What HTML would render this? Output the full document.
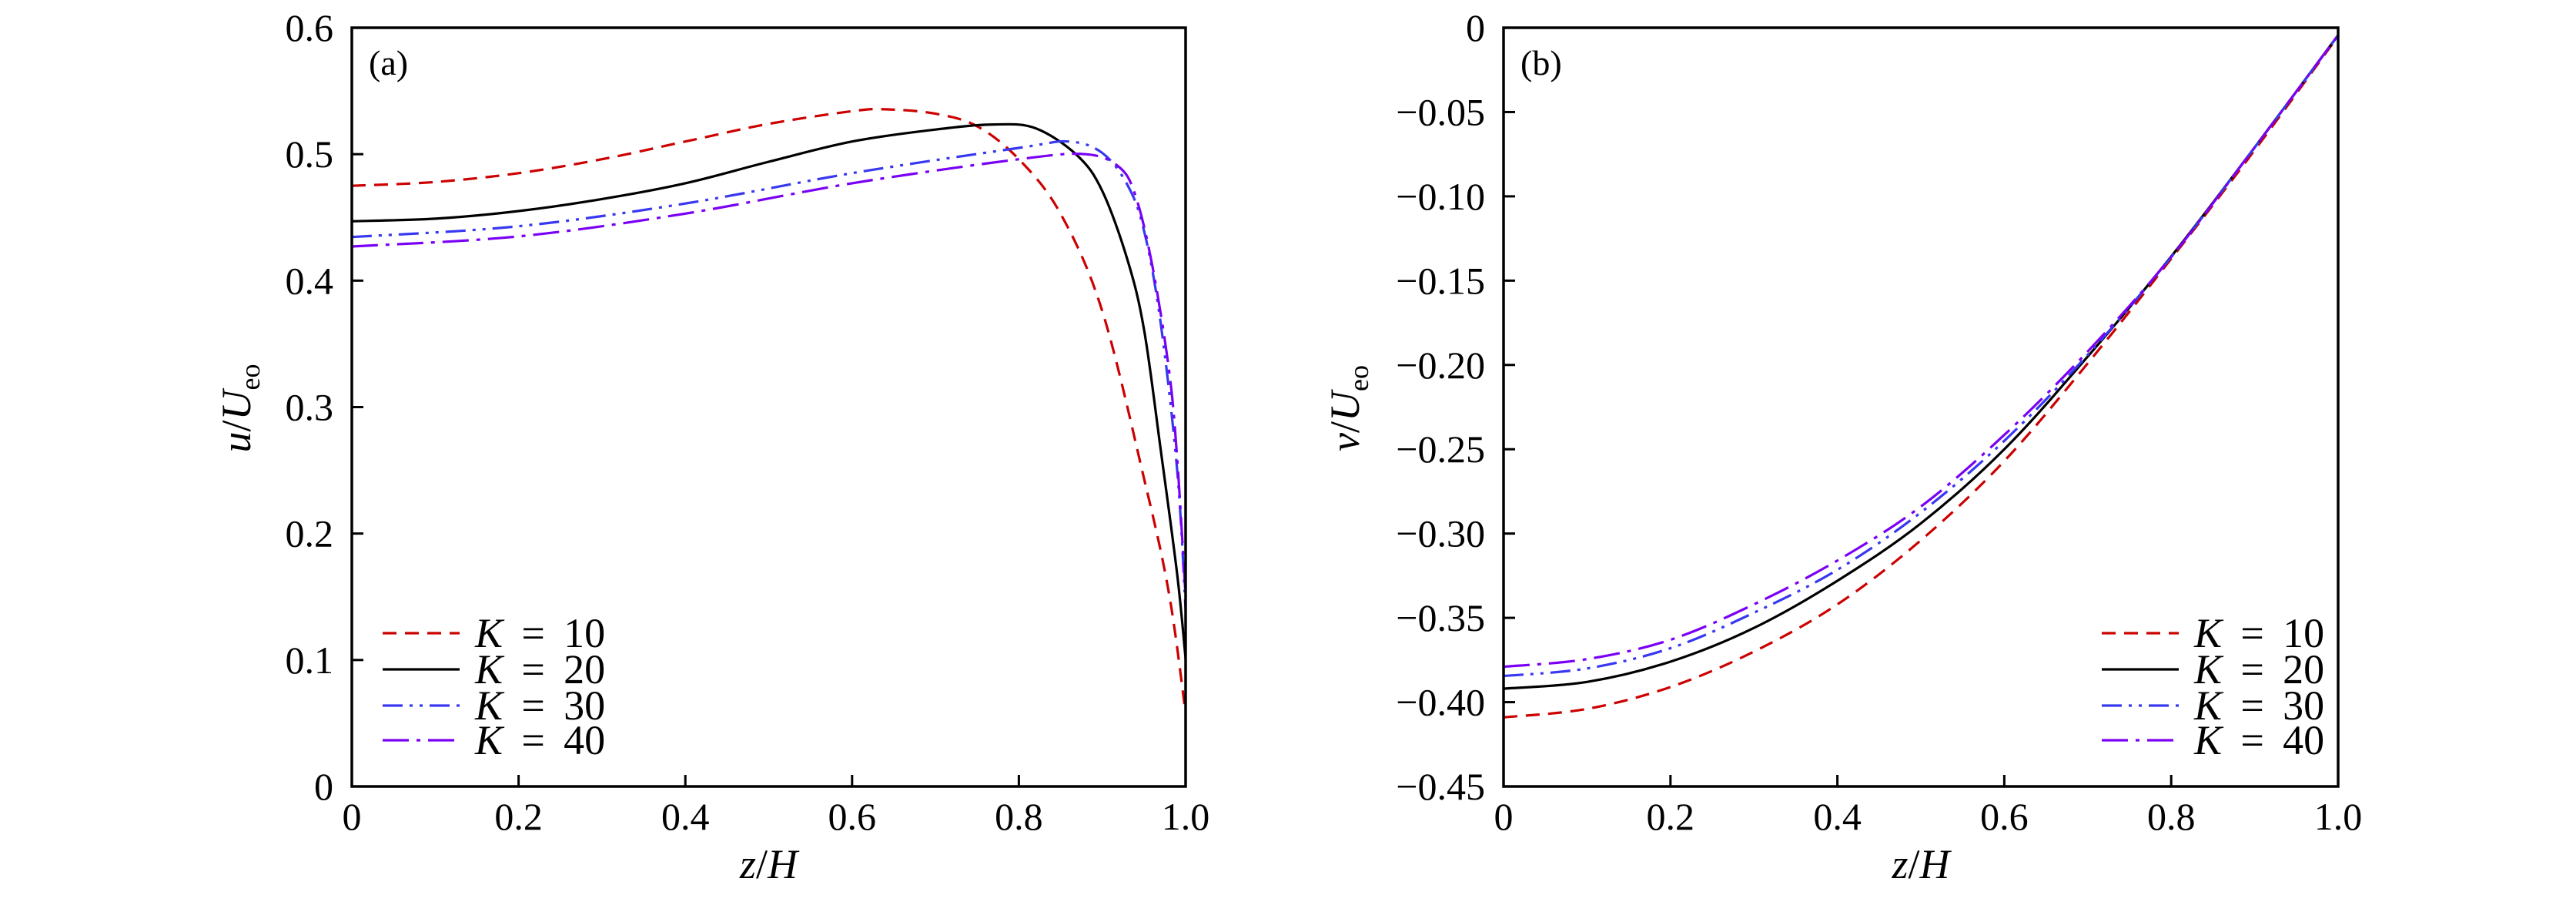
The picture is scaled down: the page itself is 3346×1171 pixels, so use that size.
<!DOCTYPE html>
<html><head><meta charset="utf-8"><style>
html,body{margin:0;padding:0;background:#fff}
svg{display:block}
text{font-family:"Liberation Serif","DejaVu Serif",serif;fill:#000}
</style></head><body>
<svg id="chart" width="3346" height="1171" viewBox="0 0 3346 1171" xmlns="http://www.w3.org/2000/svg"></svg>
<script>
// Panel (a) data: u/Ueo vs z/H
const aZ10=[0,0.1,0.2,0.3,0.4,0.5,0.6,0.64,0.7,0.75,0.8,0.85,0.9,0.95,0.98,1.0];
const aK10=[0.475,0.478,0.485,0.496,0.510,0.524,0.534,0.5355,0.532,0.522,0.496,0.453,0.376,0.244,0.153,0.058];
const aZ20=[0,0.1,0.2,0.3,0.4,0.5,0.6,0.7,0.77,0.82,0.87,0.9,0.93,0.95,0.97,0.99,1.0];
const aK20=[0.447,0.449,0.455,0.4645,0.477,0.494,0.510,0.5195,0.5235,0.5205,0.499,0.471,0.417,0.362,0.267,0.167,0.101];
const aZ30=[0,0.2,0.4,0.6,0.8,0.86,0.9,0.93,0.95,0.97,0.99,1.0];
const aK30=[0.4345,0.443,0.461,0.485,0.505,0.510,0.501,0.476,0.44,0.367,0.249,0.14];
const aZ40=[0,0.2,0.4,0.6,0.8,0.88,0.92,0.94,0.96,0.98,0.99,1.0];
const aK40=[0.427,0.435,0.453,0.477,0.496,0.5,0.49,0.467,0.412,0.33,0.258,0.15];
// Panel (b) data: v/Ueo vs z/H
const bZ=[0,0.1,0.2,0.3,0.4,0.5,0.6,0.7,0.8,0.9,1.0];
const bK10=[-0.409,-0.404,-0.391,-0.370,-0.342,-0.304,-0.257,-0.199,-0.137,-0.0726,-0.005];
const bK20=[-0.392,-0.388,-0.376,-0.356,-0.328,-0.294,-0.250,-0.195,-0.1357,-0.071,-0.0044];
const bK30=[-0.3845,-0.380,-0.368,-0.347,-0.3215,-0.2875,-0.245,-0.194,-0.136,-0.071,-0.0045];
const bK40=[-0.379,-0.3745,-0.363,-0.342,-0.316,-0.284,-0.2415,-0.192,-0.136,-0.071,-0.0045];
const xTicks=[0,0.2,0.4,0.6,0.8,1.0];
const xTickLabels=["0","0.2","0.4","0.6","0.8","1.0"];
const aYTicks=[0,0.1,0.2,0.3,0.4,0.5,0.6];
const aYTickLabels=["0","0.1","0.2","0.3","0.4","0.5","0.6"];
const bYTicks=[0,-0.05,-0.10,-0.15,-0.20,-0.25,-0.30,-0.35,-0.40,-0.45];
const bYTickLabels=["0","\u22120.05","\u22120.10","\u22120.15","\u22120.20","\u22120.25","\u22120.30","\u22120.35","\u22120.40","\u22120.45"];
const legendLabels=["10","20","30","40"];

const NS="http://www.w3.org/2000/svg";
const svg=document.getElementById('chart');
function mk(tag,attrs,parent){const e=document.createElementNS(NS,tag);for(const k in attrs)e.setAttribute(k,attrs[k]);(parent||svg).appendChild(e);return e;}
const styles=[
 {c:"#cc0000",d:"18 11"},
 {c:"#000000",d:""},
 {c:"#3838f0",d:"26 9 4 9 4 9"},
 {c:"#7a00f5",d:"34 10 5 10"}
];
function smooth(pts){
  let d="M"+pts[0][0].toFixed(1)+","+pts[0][1].toFixed(1);
  for(let i=0;i<pts.length-1;i++){
    const p0=pts[Math.max(i-1,0)],p1=pts[i],p2=pts[i+1],p3=pts[Math.min(i+2,pts.length-1)];
    const c1=[p1[0]+(p2[0]-p0[0])/6,p1[1]+(p2[1]-p0[1])/6];
    const c2=[p2[0]-(p3[0]-p1[0])/6,p2[1]-(p3[1]-p1[1])/6];
    d+=" C"+c1[0].toFixed(1)+","+c1[1].toFixed(1)+" "+c2[0].toFixed(1)+","+c2[1].toFixed(1)+" "+p2[0].toFixed(1)+","+p2[1].toFixed(1);
  }
  return d;
}
function panel(opt){
  const g=mk('g',{});
  
  
  const L=opt.L,R=opt.R,T=36,B=1021;
  const sx=v=>L+(v-0)/(1-0)*(R-L);
  const sy=v=>B-(v-opt.ymin)/(opt.ymax-opt.ymin)*(B-T);
  opt.series.forEach((s,i)=>{
    const pts=s.x.map((xv,j)=>[sx(xv),sy(s.y[j])]);
    const p=mk('path',{d:smooth(pts),fill:"none",stroke:styles[i].c,"stroke-width":3.2,"stroke-dasharray":styles[i].d},g);
    
    
  });
  const f=mk('rect',{x:L,y:T,width:R-L,height:B-T,fill:"none",stroke:"#000","stroke-width":3.5},g);
  
  
  xTicks.forEach((t,i)=>{
    const x=sx(t);
    mk('line',{x1:x,y1:B,x2:x,y2:B-15,stroke:"#000","stroke-width":3},g);
    const tx=mk('text',{x:x,y:1077,"font-size":50,"text-anchor":"middle"},g);
    tx.textContent=xTickLabels[i];
    
    
  });
  opt.yt.forEach((t,i)=>{
    const y=sy(t);
    mk('line',{x1:L,y1:y,x2:L+15,y2:y,stroke:"#000","stroke-width":3},g);
    const tx=mk('text',{x:L-24,y:y+17,"font-size":50,"text-anchor":"end"},g);
    tx.textContent=opt.ytl[i];
    
    
  });
  const pl=mk('text',{x:L+22,y:97,"font-size":46},g);
  pl.textContent=opt.label;
  
  
  const xt=mk('text',{x:(L+R)/2,y:1140,"font-size":54,"text-anchor":"middle"},g);
  xt.innerHTML='<tspan font-style="italic">z</tspan>/<tspan font-style="italic">H</tspan>';
  
  
  const yt=mk('text',{x:0,y:0,"font-size":54,"text-anchor":"middle",transform:"translate("+opt.ytx+",530) rotate(-90)"},g);
  yt.innerHTML='<tspan font-style="italic">'+opt.yvar+'</tspan>/<tspan font-style="italic">U</tspan><tspan font-size="36" dy="12">eo</tspan>';
  
  
  const rows=[822,869,916,961];
  const lg=mk('g',{},g);
  
  
  legendLabels.forEach((lab,i)=>{
    const e=mk('g',{},lg);
    
    
    mk('line',{x1:opt.lx,y1:rows[i],x2:opt.lx+100,y2:rows[i],stroke:styles[i].c,"stroke-width":3.2,"stroke-dasharray":styles[i].d},e);
    const t=mk('text',{x:opt.lx+120,y:rows[i]+18,"font-size":54},e);
    t.innerHTML='<tspan font-style="italic">K</tspan> \u2009=\u2009 '+lab;
  });
}
panel({name:'panel-a',L:457,R:1540,ymin:0,ymax:0.6,yt:aYTicks,ytl:aYTickLabels,label:'(a)',yvar:'u',ytx:325,lx:497,
  series:[{x:aZ10,y:aK10},{x:aZ20,y:aK20},{x:aZ30,y:aK30},{x:aZ40,y:aK40}]});
panel({name:'panel-b',L:1953,R:3037,ymin:-0.45,ymax:0,yt:bYTicks,ytl:bYTickLabels,label:'(b)',yvar:'v',ytx:1765,lx:2730,
  series:[{x:bZ,y:bK10},{x:bZ,y:bK20},{x:bZ,y:bK30},{x:bZ,y:bK40}]});
</script>
</body></html>
